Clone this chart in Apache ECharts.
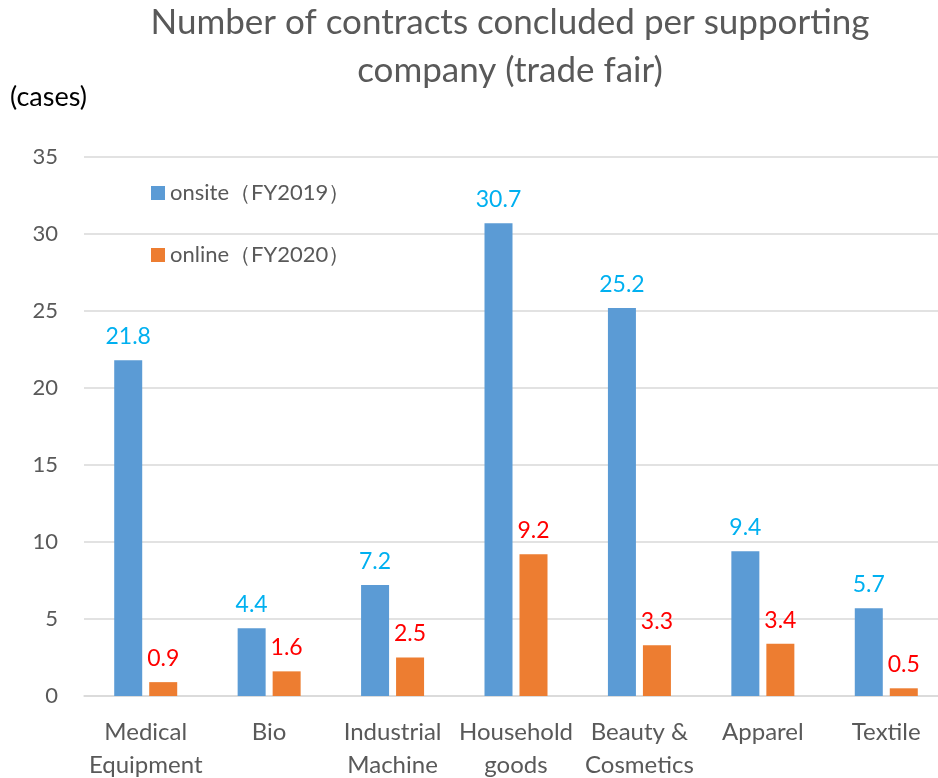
<!DOCTYPE html>
<html><head><meta charset="utf-8">
<script src="https://cdn.jsdelivr.net/npm/echarts@6/dist/echarts.min.js"></script>
<style>html,body{margin:0;padding:0;background:#fff}#c{width:938px;height:778px}</style>
</head><body><div id="c"></div>
<script>
const categories = ["Medical\nEquipment", "Bio", "Industrial\nMachine", "Household\ngoods", "Beauty &\nCosmetics", "Apparel", "Textile"];
const onsite = [21.8, 4.4, 7.2, 30.7, 25.2, 9.4, 5.7];
const online = [0.9, 1.6, 2.5, 9.2, 3.3, 3.4, 0.5];
const seriesNames = ["onsite（FY2019）", "online（FY2020）"];
const yTicks = [0, 5, 10, 15, 20, 25, 30, 35];

const FONT = 'Lato, "Open Sans", sans-serif';
const chart = echarts.init(document.getElementById('c'), null, {renderer: 'canvas'});
chart.setOption({
  animation: false,
  textStyle: {fontFamily: FONT},
  title: {
    text: 'Number of contracts concluded per supporting\ncompany (trade fair)',
    left: 505, top: -6, textAlign: 'center',
    textStyle: {fontFamily: FONT, fontSize: 35, fontWeight: 'normal', color: '#595959', lineHeight: 48}
  },
  graphic: [{type: 'text', left: 10, top: 84, style: {text: '(cases)', font: '27px ' + FONT, fill: '#000'}}],
  legend: {
    orient: 'vertical', left: 146, top: 177, itemGap: 40,
    itemWidth: 14, itemHeight: 14, icon: 'rect',
    textStyle: {fontFamily: FONT, fontSize: 22, color: '#595959'},
    data: seriesNames
  },
  grid: {left: 84, right: -10, top: 157, bottom: 82, containLabel: false, outerBoundsMode: 'none'},
  xAxis: {
    type: 'category', data: categories,
    axisLine: {lineStyle: {color: '#d9d9d9', width: 1.5}},
    axisTick: {show: false},
    axisLabel: {fontFamily: FONT, fontSize: 24, color: '#595959', lineHeight: 33, margin: 20, interval: 0}
  },
  yAxis: {
    type: 'value', min: yTicks[0], max: yTicks[yTicks.length-1], interval: 5,
    axisLine: {show: false}, axisTick: {show: false},
    splitLine: {lineStyle: {color: '#d9d9d9', width: 1.5}},
    axisLabel: {fontFamily: FONT, fontSize: 22, color: '#595959', margin: 26}
  },
  series: [
    {name: seriesNames[0], type: 'bar', data: onsite, barWidth: 28, barGap: '25%',
     itemStyle: {color: '#5b9bd5'},
     label: {show: true, position: 'top', distance: 12, fontFamily: FONT, fontSize: 23, color: '#00b0f0'}},
    {name: seriesNames[1], type: 'bar', data: online, barWidth: 28,
     itemStyle: {color: '#ed7d31'},
     label: {show: true, position: 'top', distance: 12, fontFamily: FONT, fontSize: 23, color: '#ff0000'}}
  ]
});
</script></body></html>
